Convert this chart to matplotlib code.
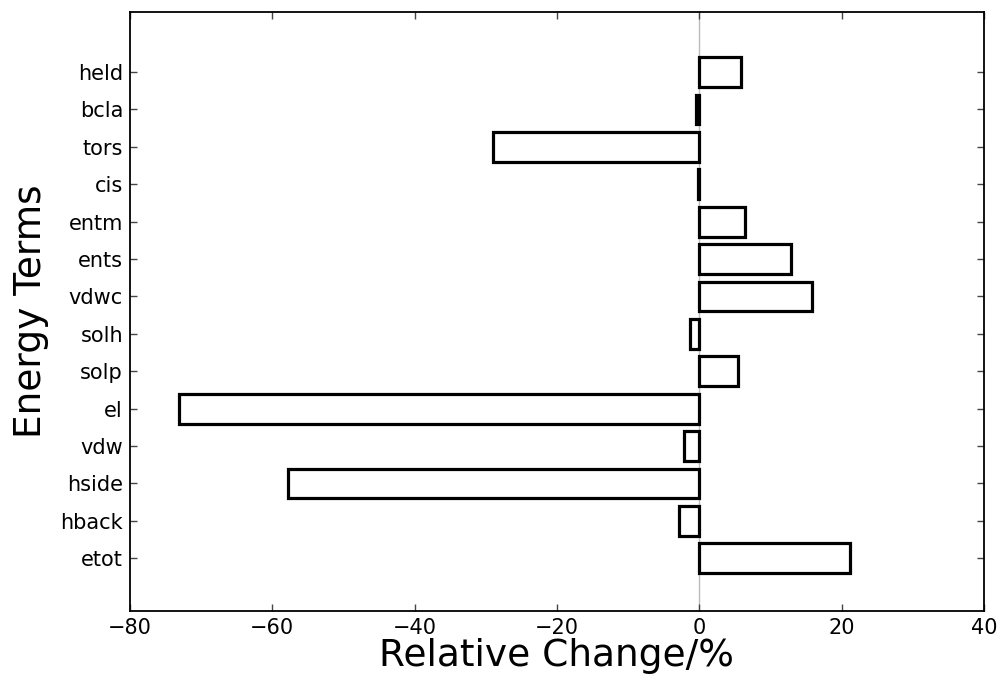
import matplotlib
matplotlib.use("Agg")
import matplotlib.pyplot as plt
import numpy as np

# energy terms, bottom to top
terms = ["etot", "hback", "hside", "vdw", "el", "solp", "solh",
         "vdwc", "ents", "entm", "cis", "tors", "bcla", "held"]
rel_change = [21.2, -2.8, -57.8, -2.2, -73.1, 5.4, -1.3,
              15.8, 12.9, 6.4, -0.2, -29.0, -0.45, 5.9]


def main() -> None:
    fig = plt.figure(figsize=(10.02, 6.8), dpi=100)
    ax = fig.add_axes([0.1297, 0.102, 0.8523, 0.880])

    pos = np.arange(len(terms))
    ax.barh(pos, rel_change, height=0.8, align="edge",
            color="white", edgecolor="black", linewidth=2.3, zorder=3)
    ax.axvline(0, color="#bbbbbb", linewidth=1, zorder=1)

    ax.set_xlim(-80, 40)
    ax.set_ylim(-1, 15)
    ax.set_xticks([-80, -60, -40, -20, 0, 20, 40])
    ax.set_yticks(pos + 0.4)
    ax.set_yticklabels(terms)

    ax.tick_params(direction="in", length=5, width=1, color="#444444",
                   labelsize=15, top=True, right=True, pad=5)
    for sp in ax.spines.values():
        sp.set_linewidth(1.3)

    ax.set_xlabel("Relative Change/%", fontsize=27, labelpad=0)
    ax.set_ylabel("Energy Terms", fontsize=27, labelpad=8)

    fig.savefig("out.png", dpi=100)


if __name__ == "__main__":
    main()
